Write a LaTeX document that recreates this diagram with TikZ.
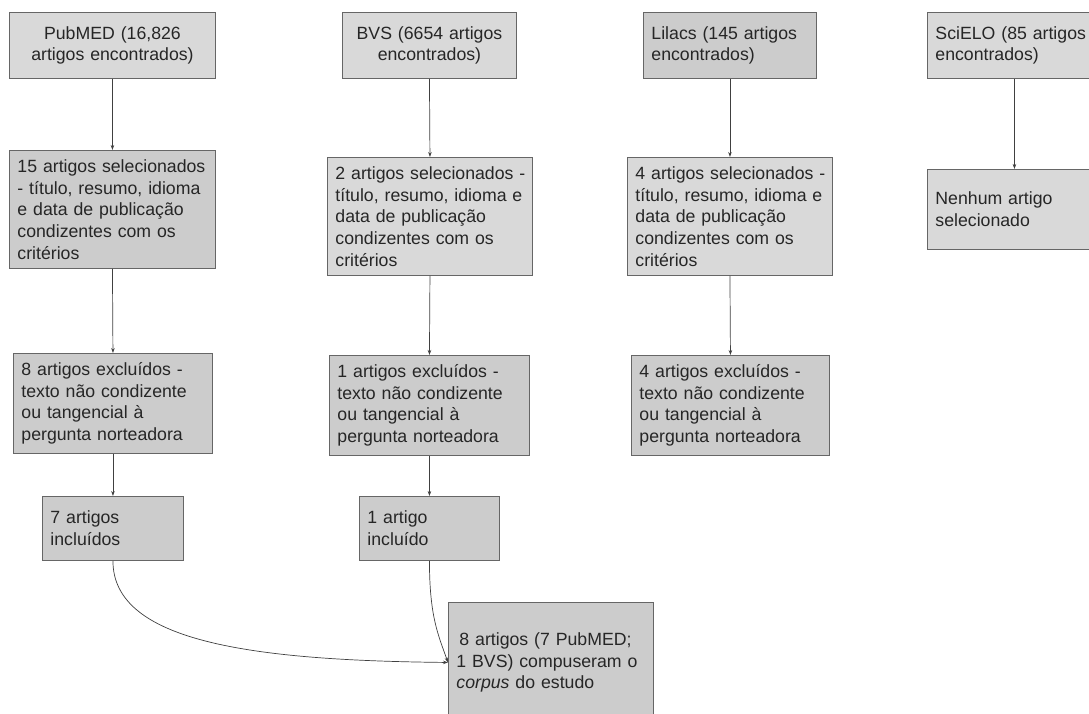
\documentclass[tikz,border=0pt]{standalone}
\usepackage{fontspec}
\setmainfont{Liberation Sans}
\usetikzlibrary{arrows.meta}
\definecolor{lightbox}{HTML}{D9D9D9}
\definecolor{darkbox}{HTML}{CCCCCC}
\definecolor{bordc}{HTML}{666666}
\definecolor{linec}{HTML}{404040}
\newcommand{\lnbx}[1]{\mbox{#1}}
\tikzset{
  box/.style={draw=bordc, line width=0.9pt, inner xsep=8pt, inner ysep=0pt,
    anchor=north west, font=\fontsize{17.7pt}{21.7pt}\selectfont, align=left,
    text=black!85},
  lbox/.style={box, fill=lightbox},
  dbox/.style={box, fill=darkbox},
  arr/.style={draw=linec, line width=0.7pt, -{Stealth[length=5pt,width=3.5pt]}}
}
\begin{document}
\begin{tikzpicture}[x=1pt,y=-1pt]
\useasboundingbox (0,0) rectangle (1089,713);
% PubMED column
\node[lbox, align=center, text width=190pt, minimum height=66pt] (pub) at (9,12) {PubMED (16,826\\artigos encontrados)};
\node[dbox, text width=190pt, minimum height=118pt] (sel1) at (9,150) {\lnbx{15 artigos selecionados}\\\lnbx{- título, resumo, idioma}\\\lnbx{e data de publicação}\\\lnbx{condizentes com os}\\critérios};
\node[dbox, text width=183pt, minimum height=100pt] (exc1) at (13,353) {\lnbx{8 artigos excluídos -}\\\lnbx{texto não condizente}\\\lnbx{ou tangencial à}\\\lnbx{pergunta norteadora}};
\node[dbox, text width=125pt, minimum height=64pt] (inc1) at (42,496) {7 artigos\\incluídos};
% BVS column
\node[lbox, align=center, text width=158pt, minimum height=66pt] (bvs) at (342,12) {\lnbx{BVS (6654 artigos}\\encontrados)};
\node[lbox, text width=189pt, minimum height=118pt] (sel2) at (327,157) {\lnbx{2 artigos selecionados -}\\\lnbx{título, resumo, idioma e}\\\lnbx{data de publicação}\\\lnbx{condizentes com os}\\critérios};
\node[dbox, text width=184pt, minimum height=100pt] (exc2) at (329,355) {\lnbx{1 artigos excluídos -}\\\lnbx{texto não condizente}\\\lnbx{ou tangencial à}\\\lnbx{pergunta norteadora}};
\node[dbox, text width=124pt, minimum height=64pt] (inc2) at (359,496) {1 artigo\\incluído};
% Final box
\node[dbox, text width=189pt, minimum height=120pt] (bot) at (448,602) {\lnbx{\hspace*{3pt}8 artigos (7 PubMED;}\\\lnbx{1 BVS) compuseram o}\\\lnbx{\textit{corpus} do estudo}};
% Lilacs column
\node[dbox, text width=157pt, minimum height=66pt] (lil) at (643,12) {\lnbx{Lilacs (145 artigos}\\encontrados)};
\node[lbox, text width=189pt, minimum height=118pt] (sel3) at (627,157) {\lnbx{4 artigos selecionados -}\\\lnbx{título, resumo, idioma e}\\\lnbx{data de publicação}\\\lnbx{condizentes com os}\\critérios};
\node[dbox, text width=182pt, minimum height=100pt] (exc3) at (631,355) {\lnbx{4 artigos excluídos -}\\\lnbx{texto não condizente}\\\lnbx{ou tangencial à}\\\lnbx{pergunta norteadora}};
% SciELO column
\node[lbox, text width=158pt, minimum height=66pt] (sci) at (927,12) {\lnbx{SciELO (85 artigos}\\encontrados)};
\node[lbox, text width=158pt, minimum height=80pt] (non) at (927,169) {\lnbx{Nenhum artigo}\\selecionado};
% Connectors
\draw[arr] (pub.south) -- (sel1.north);
\draw[arr] (sel1.south) -- (exc1.north);
\draw[arr] (exc1.south) -- (inc1.north);
\draw[arr] (bvs.south) -- (sel2.north);
\draw[arr] (sel2.south) -- (exc2.north);
\draw[arr] (exc2.south) -- (inc2.north);
\draw[arr] (lil.south) -- (sel3.north);
\draw[arr] (sel3.south) -- (exc3.north);
\draw[arr] (sci.south) -- (non.north);
\draw[arr] (inc1.south) .. controls +(0,80) and +(-200,-2) .. (bot.west);
\draw[arr] (inc2.south) .. controls +(0,55) and +(-10,-28) .. (bot.west);
\end{tikzpicture}
\end{document}
